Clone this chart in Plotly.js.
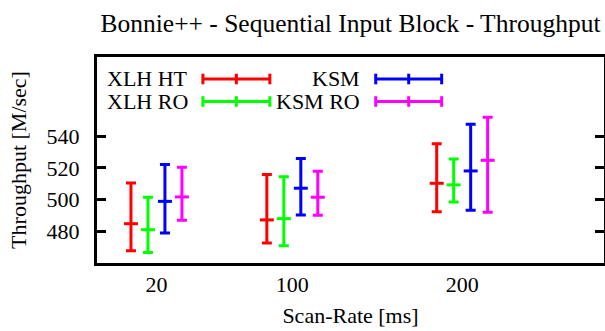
<!DOCTYPE html>
<html>
<head>
<meta charset="utf-8">
<script src="https://cdn.plot.ly/plotly-3.0.1.min.js"></script>
<style>
  html, body { margin: 0; padding: 0; background: #fff; }
  #chart { width: 605px; height: 331px; }
</style>
</head>
<body>
<div id="chart"></div>
<script>
// ---- data ----
const scanRates = [20, 100, 200];
const tickLabels = ["20", "100", "200"];
const seriesNames = ["XLH HT", "XLH RO", "KSM", "KSM RO"];

const xlhHtMean = [484.8, 487.2, 510.3];
const xlhHtLow  = [467.8, 472.6, 492.4];
const xlhHtHigh = [510.5, 515.8, 535.2];

const xlhRoMean = [481.0, 488.0, 509.3];
const xlhRoLow  = [466.7, 470.9, 498.5];
const xlhRoHigh = [501.5, 514.5, 525.7];

const ksmMean = [498.9, 507.2, 518.1];
const ksmLow  = [479.0, 490.3, 493.3];
const ksmHigh = [522.1, 525.9, 547.6];

const ksmRoMean = [501.7, 501.5, 524.8];
const ksmRoLow  = [486.9, 490.1, 492.0];
const ksmRoHigh = [520.4, 517.9, 552.0];

const yTicks = [480, 500, 520, 540];

// ---- style ----
const colors = ["#ff0000", "#00ff00", "#0000ff", "#ff00ff"];
const xOffsets = [-15, -5, 5, 15];
const FONT = "Liberation Serif";

const means = [xlhHtMean, xlhRoMean, ksmMean, ksmRoMean];
const lows  = [xlhHtLow, xlhRoLow, ksmLow, ksmRoLow];
const highs = [xlhHtHigh, xlhRoHigh, ksmHigh, ksmRoHigh];

const traces = seriesNames.map((name, i) => ({
  type: "scatter",
  mode: "markers",
  name: name,
  x: scanRates.map(v => v + xOffsets[i]),
  y: means[i],
  marker: { symbol: "line-ew", size: 10, color: colors[i], line: { color: colors[i], width: 3 } },
  error_y: {
    type: "data",
    symmetric: false,
    array: highs[i].map((h, k) => h - means[i][k]),
    arrayminus: means[i].map((m, k) => m - lows[i][k]),
    color: colors[i],
    thickness: 3,
    width: 5
  },
  showlegend: false,
  hoverinfo: "skip"
}));

// ---- manual gnuplot-style key (text right-justified, sample to the right) ----
const plotL = 97, plotR = 604.5, plotT = 57, plotB = 263;
const px = v => (v - plotL) / (plotR - plotL);
const py = v => (plotB - v) / (plotB - plotT);
const keyCols = [{ textRight: 190, lineL: 203, lineR: 270 }, { textRight: 362, lineL: 376, lineR: 442 }];
const keyRows = [79, 101.5];
const keyOrder = [[0, 0], [1, 0], [0, 1], [1, 1]]; // [row, col] per series
const annotations = [];
const shapes = [];
seriesNames.forEach((name, i) => {
  const [r, c] = keyOrder[i];
  const col = keyCols[c], yy = keyRows[r];
  annotations.push({
    xref: "paper", yref: "paper", x: px(col.textRight), y: py(yy),
    xanchor: "right", yanchor: "middle", showarrow: false, text: name,
    font: { family: FONT, size: 22, color: "#000" }
  });
  const ln = { color: colors[i], width: 3 };
  shapes.push({ type: "line", xref: "paper", yref: "paper", x0: px(col.lineL), x1: px(col.lineR), y0: py(yy), y1: py(yy), line: ln });
  [col.lineL, (col.lineL + col.lineR) / 2, col.lineR].forEach(xx => {
    shapes.push({ type: "line", xref: "paper", yref: "paper", x0: px(xx), x1: px(xx), y0: py(yy - 5.3), y1: py(yy + 5.3), line: ln });
  });
});

const layout = {
  width: 605, height: 331,
  margin: { l: plotL, r: 605 - plotR, t: plotT, b: 331 - plotB, pad: 0 },
  paper_bgcolor: "#fff", plot_bgcolor: "#fff",
  font: { family: FONT, size: 22, color: "#000" },
  title: {
    text: "Bonnie++ - Sequential Input Block - Throughput",
    font: { family: FONT, size: 25.5, color: "#000" },
    xref: "paper", x: 0.5, xanchor: "center",
    yref: "container", y: 1 - 23.5 / 331, yanchor: "middle"
  },
  xaxis: {
    range: [-15, 283.5],
    tickmode: "array", tickvals: scanRates, ticktext: tickLabels,
    ticks: "", showgrid: false, zeroline: false,
    showline: true, linecolor: "#000", linewidth: 3, mirror: true,
    tickfont: { family: FONT, size: 22 },
    title: { text: "Scan-Rate [ms]", font: { family: FONT, size: 22 }, standoff: 12 }
  },
  yaxis: {
    range: [460, 590],
    tickmode: "array", tickvals: yTicks, ticktext: yTicks.map(String),
    ticks: "inside", ticklen: 9, tickwidth: 3, tickcolor: "#000",
    showgrid: false, zeroline: false,
    showline: true, linecolor: "#000", linewidth: 3, mirror: "ticks",
    ticklabelstandoff: 10,
    tickfont: { family: FONT, size: 22 },
    title: { text: "Throughput [M/sec]", font: { family: FONT, size: 22 }, standoff: 14 }
  },
  annotations: annotations,
  shapes: shapes,
  showlegend: false
};

Plotly.newPlot("chart", traces, layout, { staticPlot: true, displayModeBar: false });
</script>
</body>
</html>
